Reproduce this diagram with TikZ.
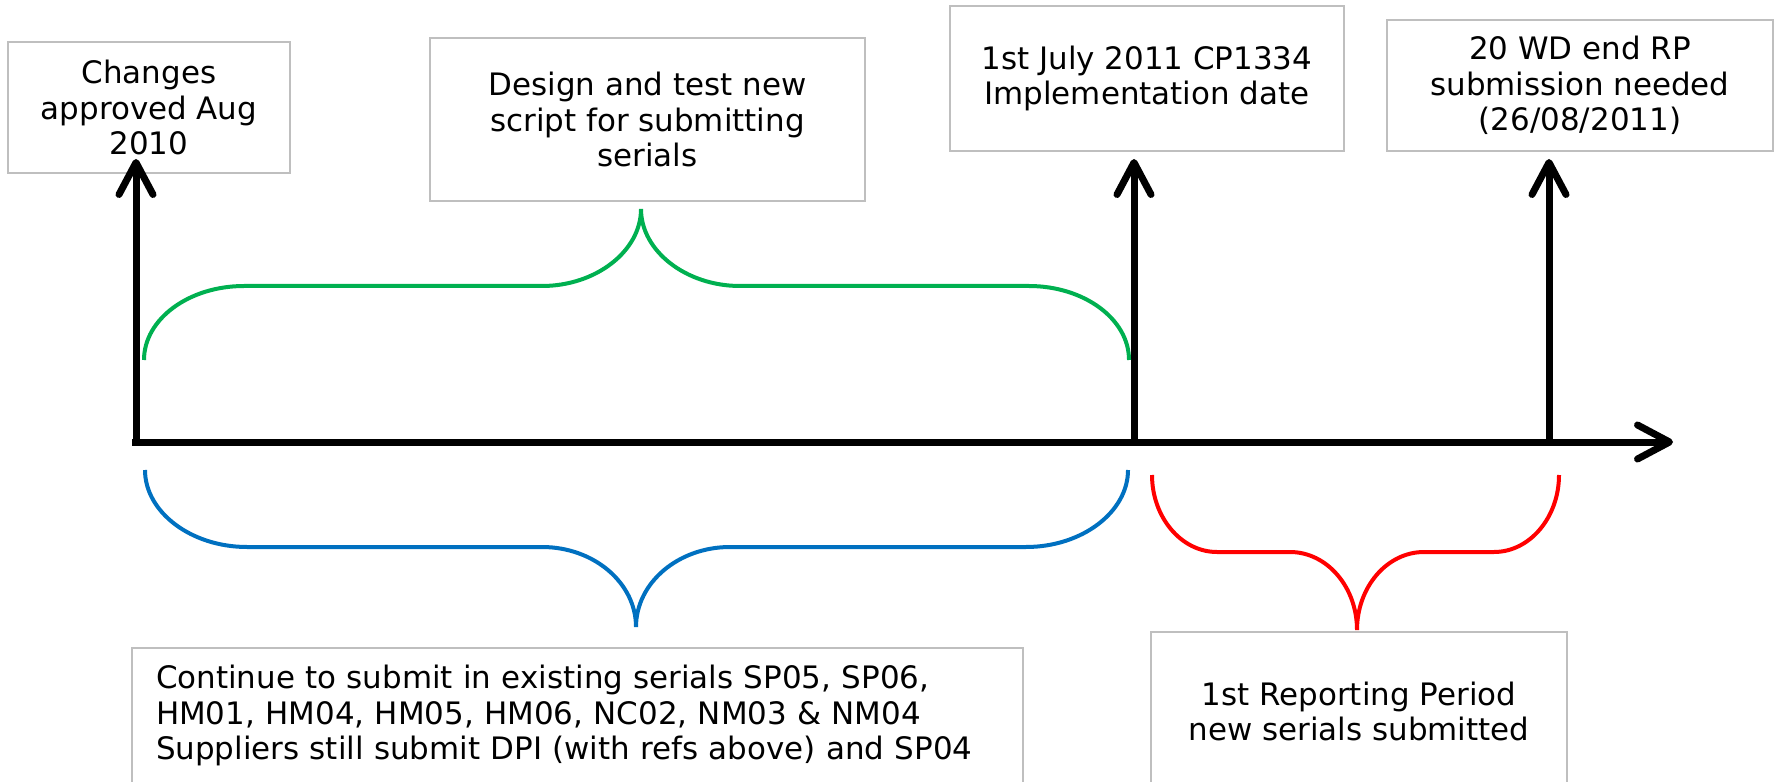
\documentclass[tikz,border=0pt]{standalone}
\usepackage{fontspec}
\setmainfont{DejaVu Sans}
\usetikzlibrary{arrows.meta}

\definecolor{boxgray}{HTML}{BFBFBF}
\definecolor{bracegreen}{HTML}{00B050}
\definecolor{braceblue}{HTML}{0070C0}
\definecolor{bracered}{HTML}{FF0000}

\begin{document}
\begin{tikzpicture}[
    x=0.1mm, y=-0.1mm,
    >={Straight Barb[length=3.2mm, width=3.4mm, round]},
    every node/.style={font=\fontsize{8.8pt}{10.1pt}\selectfont},
    box/.style={draw=boxgray, line width=0.15mm, align=center, inner sep=0pt},
    timeline/.style={line width=0.7mm},
    brace/.style={line width=0.4mm}
]
    \useasboundingbox (0,0) rectangle (1777,782);

    % Milestones
    \node[box, minimum width=28.2mm, minimum height=13.1mm] (changes) at (149,107.5) {Changes\\approved Aug\\2010};
    \node[box, minimum width=43.5mm, minimum height=16.3mm] (design) at (647.5,119.5) {Design and test new\\script for submitting\\serials};
    \node[box, minimum width=39.4mm, minimum height=14.5mm] (golive) at (1147,78.5) {1st July 2011 CP1334\\Implementation date};
    \node[box, minimum width=38.6mm, minimum height=13.1mm] (deadline) at (1580,85.5) {20 WD end RP\\submission needed\\(26/08/2011)};

    % Periods
    \node[box, align=left, text width=84.3mm, inner xsep=2.4mm, minimum height=13.5mm] (existing) at (577.5,715.5) {Continue to submit in existing serials SP05, SP06,\\HM01, HM04, HM05, HM06, NC02, NM03 \& NM04\\Suppliers still submit DPI (with refs above) and SP04};
    \node[box, minimum width=41.6mm, minimum height=15.9mm] (reporting) at (1359,711.5) {1st Reporting Period\\new serials submitted};

    % Timeline
    \coordinate (start) at (132,442);
    \coordinate (finish) at (1673,442);
    \coordinate (approvedbase) at (136,445.5);
    \coordinate (golivebase) at (1134,445.5);
    \coordinate (deadlinebase) at (1549,445.5);
    \coordinate (approved) at (136,159);
    \coordinate (implemented) at (1134,159);
    \coordinate (submitted) at (1549,159);

    \draw[timeline, ->] (start) -- (finish);
    \draw[timeline, ->] (approvedbase) -- (approved);
    \draw[timeline, ->] (golivebase) -- (implemented);
    \draw[timeline, ->] (deadlinebase) -- (submitted);

    % Braces
    \draw[brace, bracegreen] (144,360) .. controls (144,319) and (189,286) .. (244,286) -- (542,286)
        .. controls (596,286) and (641,251) .. (641,209)
        .. controls (641,251) and (686,286) .. (740,286) -- (1029,286)
        .. controls (1084,286) and (1129,319) .. (1129,360);
    \draw[brace, braceblue] (145,470) .. controls (145,512) and (191,547) .. (247,547) -- (542,547)
        .. controls (594,547) and (636,583) .. (636,627)
        .. controls (636,583) and (678,547) .. (730,547) -- (1026,547)
        .. controls (1082,547) and (1128,512) .. (1128,470);
    \draw[brace, bracered] (1152,475) .. controls (1152,517) and (1181,552) .. (1217,552) -- (1290,552)
        .. controls (1327,552) and (1357,587) .. (1357,630)
        .. controls (1357,587) and (1387,552) .. (1424,552) -- (1494,552)
        .. controls (1530,552) and (1559,517) .. (1559,475);

\end{tikzpicture}
\end{document}
